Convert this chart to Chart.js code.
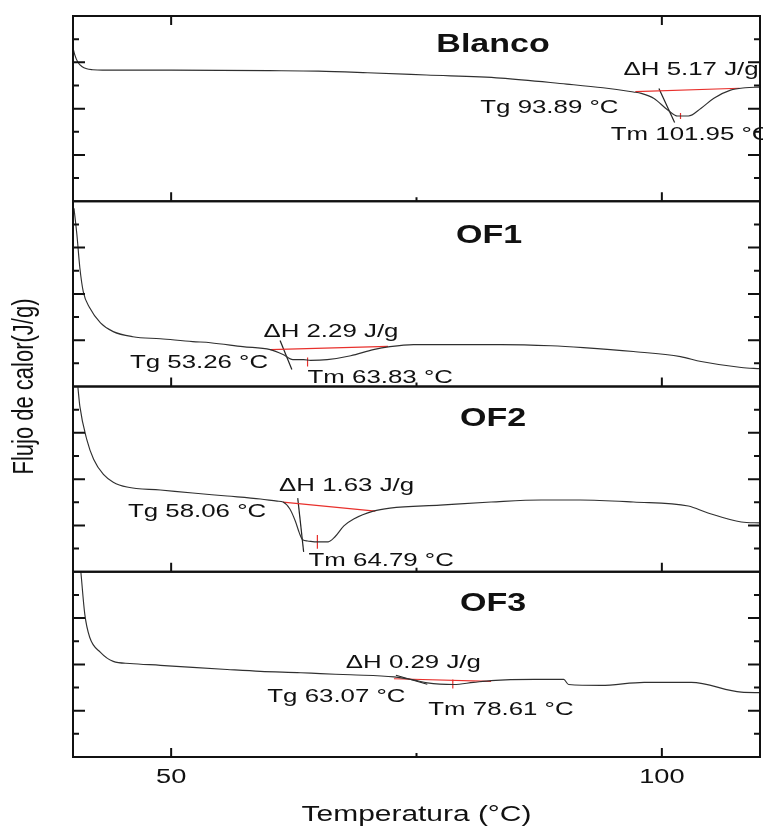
<!DOCTYPE html>
<html>
<head>
<meta charset="utf-8">
<script src="https://cdn.jsdelivr.net/npm/chart.js@4.4.0/dist/chart.umd.min.js"></script>
<style>
  html, body { margin: 0; padding: 0; background: #fff; }
</style>
</head>
<body>
<canvas id="myChart" width="763" height="831"></canvas>
<script>
// --- data (T in °C, heat flow in arbitrary panel units 0..8)
const panels = ['Blanco', 'OF1', 'OF2', 'OF3'];

const blancoT = [40.0, 40.2, 40.5, 40.9, 41.4, 42.0, 43.0, 50, 60, 65, 70, 76, 83.6, 90.3, 94, 97.1, 97.9, 99.2, 100.6, 101.6, 102.7, 104.0, 105.3, 107.0, 108.5, 110];
const blancoF = [6.62, 6.3, 6.0, 5.82, 5.72, 5.68, 5.66, 5.66, 5.64, 5.62, 5.55, 5.45, 5.32, 5.06, 4.9, 4.72, 4.66, 4.44, 3.94, 3.68, 3.68, 4.02, 4.45, 4.8, 4.9, 4.93];

const of1T = [40.1, 40.4, 40.7, 41.05, 41.7, 42.8, 44.1, 46.1, 48.9, 52.2, 54.0, 57.3, 60.1, 61.4, 62.4, 63.5, 64.2, 65.9, 68.3, 70.6, 72.3, 74.7, 77.4, 80.8, 83.6, 88.7, 92.0, 97.1, 101.9, 104.0, 108.1, 110];
const of1F = [7.7, 6.54, 5.12, 4.09, 3.4, 2.75, 2.37, 2.15, 2.06, 1.94, 1.89, 1.72, 1.59, 1.38, 1.16, 1.16, 1.13, 1.16, 1.33, 1.59, 1.72, 1.81, 1.81, 1.81, 1.81, 1.76, 1.68, 1.51, 1.29, 1.08, 0.82, 0.77];

const of2T = [40.5, 40.7, 41.4, 42.1, 43.1, 44.1, 45.5, 48.9, 52.2, 55.7, 59.1, 60.8, 61.4, 62.1, 62.65, 63.06, 63.4, 63.9, 64.9, 66.0, 66.7, 67.6, 68.6, 70.6, 72.3, 77.4, 82.6, 87.7, 91.7, 97.1, 102.7, 104.7, 108.1, 110];
const of2F = [7.96, 7.14, 5.72, 4.86, 4.2, 3.87, 3.66, 3.53, 3.4, 3.27, 3.14, 3.05, 3.01, 2.71, 2.19, 1.68, 1.38, 1.33, 1.29, 1.29, 1.51, 1.98, 2.28, 2.62, 2.75, 2.88, 3.01, 3.1, 3.1, 3.01, 2.84, 2.54, 2.15, 2.11];

const of3T = [40.8, 41.2, 41.7, 42.8, 44.1, 45.8, 48.9, 52.2, 55.7, 59.1, 63.2, 65.2, 68.3, 72.7, 74.7, 76.1, 78.8, 80.8, 82.6, 87.0, 90.0, 90.5, 93.8, 98.2, 103.0, 108.1, 110];
const of3F = [8.0, 6.17, 5.17, 4.52, 4.13, 4.04, 3.96, 3.87, 3.78, 3.7, 3.64, 3.6, 3.55, 3.46, 3.33, 3.2, 3.13, 3.22, 3.3, 3.35, 3.35, 3.13, 3.09, 3.22, 3.22, 2.8, 2.78];

// baseline (red), tangent (black) and Tm marker (red) segments: [T1, F1, T2, F2]
const baselines = [[97.3, 4.73, 107.9, 4.88], [60.1, 1.59, 72.1, 1.73], [61.4, 3.01, 70.8, 2.62], [72.7, 3.38, 82.6, 3.27]];
const tangents  = [[99.7, 4.87, 101.3, 3.40], [61.1, 1.99, 62.3, 0.73], [62.9, 3.18, 63.5, 0.86], [72.9, 3.53, 76.1, 3.14]];
const tmMarks   = [[101.9, 3.81, 101.9, 3.55], [63.9, 1.25, 63.9, 0.86], [64.9, 1.59, 64.9, 0.99], [78.7, 3.35, 78.7, 2.96]];

const deltaH = ['ΔH 5.17 J/g', 'ΔH 2.29 J/g', 'ΔH 1.63 J/g', 'ΔH 0.29 J/g'];
const tgText = ['Tg 93.89 °C', 'Tg 53.26 °C', 'Tg 58.06 °C', 'Tg 63.07 °C'];
const tmText = ['Tm 101.95 °C', 'Tm 63.83 °C', 'Tm 64.79 °C', 'Tm 78.61 °C'];

const xTicks = [50, 75, 100];
const xTickLabels = ['50', '', '100'];

// where the notes sit, in data coords of each panel
const notePos = [
  { title: [82.8, 6.75], dh: [96.1, 5.66], tg: [81.5, 4.02], tm: [94.8, 2.85] },
  { title: [82.4, 6.49], dh: [59.4, 2.37], tg: [45.8, 1.03], tm: [63.9, 0.39] },
  { title: [82.8, 6.58], dh: [61.0, 3.70], tg: [45.6, 2.58], tm: [64.0, 0.47] },
  { title: [82.8, 6.61], dh: [67.8, 4.09], tg: [59.8, 2.61], tm: [76.2, 2.04] }
];

const SX = 1.36;   // the original figure is stretched sideways
const FONT = '"Liberation Sans", Arial, sans-serif';
const axisIds = ['yB', 'y1', 'y2', 'y3'];

const zip = (t, f) => t.map((v, i) => ({ x: v, y: f[i] }));
const seg = s => [{ x: s[0], y: s[1] }, { x: s[2], y: s[3] }];

const curves = [zip(blancoT, blancoF), zip(of1T, of1F), zip(of2T, of2F), zip(of3T, of3F)];

const datasets = [];
curves.forEach((pts, i) => {
  datasets.push({ data: pts, yAxisID: axisIds[i], borderColor: '#303030', borderWidth: 1.15, cubicInterpolationMode: 'monotone' });
  datasets.push({ data: seg(baselines[i]), yAxisID: axisIds[i], borderColor: '#e8302c', borderWidth: 1.2 });
  datasets.push({ data: seg(tmMarks[i]), yAxisID: axisIds[i], borderColor: '#e8302c', borderWidth: 1.2 });
  datasets.push({ data: seg(tangents[i]), yAxisID: axisIds[i], borderColor: '#222', borderWidth: 1.2 });
});

function sText(ctx, txt, x, y, align, font) {
  ctx.save();
  ctx.font = font;
  ctx.translate(x, y);
  ctx.scale(SX, 1);
  ctx.textAlign = align;
  ctx.textBaseline = 'middle';
  ctx.fillStyle = '#111';
  ctx.fillText(txt, 0, 0);
  ctx.restore();
}

const framePlugin = {
  id: 'frame',
  afterDatasetsDraw(chart) {
    const ctx = chart.ctx;
    const xs = chart.scales.x;
    const L = chart.chartArea.left, R = chart.chartArea.right;
    ctx.save();
    ctx.strokeStyle = '#111';
    ctx.lineWidth = 2;
    axisIds.forEach((id, i) => {
      const ys = chart.scales[id];
      ctx.strokeRect(L, ys.top, R - L, ys.bottom - ys.top);
      for (let v = 1; v <= 7; v++) {
        const py = ys.getPixelForValue(v);
        const len = v % 2 === 0 ? 12 : 6;
        ctx.beginPath();
        ctx.moveTo(L, py); ctx.lineTo(L + len, py);
        ctx.moveTo(R, py); ctx.lineTo(R - len, py);
        ctx.stroke();
      }
      xTicks.forEach((t, k) => {
        const px = xs.getPixelForValue(t);
        const len = xTickLabels[k] ? 9 : 4;
        ctx.beginPath();
        ctx.moveTo(px, ys.bottom); ctx.lineTo(px, ys.bottom - len);
        if (i === 0 && xTickLabels[k]) { ctx.moveTo(px, ys.top); ctx.lineTo(px, ys.top + len); }
        ctx.stroke();
      });
      const p = notePos[i];
      const at = q => [xs.getPixelForValue(q[0]), ys.getPixelForValue(q[1])];
      let a = at(p.title); sText(ctx, panels[i], a[0], a[1], 'center', 'bold 25px ' + FONT);
      a = at(p.dh); sText(ctx, deltaH[i], a[0], a[1], 'left', '19px ' + FONT);
      a = at(p.tg); sText(ctx, tgText[i], a[0], a[1], 'left', '19px ' + FONT);
      a = at(p.tm); sText(ctx, tmText[i], a[0], a[1], 'left', '19px ' + FONT);
    });
    const last = chart.scales[axisIds[3]];
    xTicks.forEach((t, k) => {
      if (xTickLabels[k]) sText(ctx, xTickLabels[k], xs.getPixelForValue(t), last.bottom + 20, 'center', '20px ' + FONT);
    });
    sText(ctx, 'Temperatura (°C)', (L + R) / 2, last.bottom + 58, 'center', '22px ' + FONT);
    ctx.save();
    ctx.translate(25, (chart.scales[axisIds[0]].top + last.bottom) / 2);
    ctx.scale(SX, 1);
    ctx.rotate(-Math.PI / 2);
    ctx.font = '22px ' + FONT;
    ctx.textAlign = 'center';
    ctx.textBaseline = 'middle';
    ctx.fillStyle = '#111';
    ctx.fillText('Flujo de calor(J/g)', 0, 0);
    ctx.restore();
    ctx.restore();
  }
};

const yAxis = () => ({
  type: 'linear', min: 0, max: 8, position: 'left', stack: 'dsc', stackWeight: 1,
  ticks: { display: false }, grid: { display: false, drawTicks: false }, border: { display: false }
});

// bottom panel declared first so it is placed lowest
const scales = { x: { type: 'linear', min: 40, max: 110, display: false } };
[3, 2, 1, 0].forEach(i => { scales[axisIds[i]] = yAxis(); });

new Chart(document.getElementById('myChart'), {
  type: 'scatter',
  data: { datasets },
  options: {
    responsive: false,
    animation: false,
    showLine: true,
    elements: { point: { radius: 0 } },
    layout: { padding: { left: 73, right: 3, top: 16, bottom: 74 } },
    plugins: { legend: { display: false }, tooltip: { enabled: false } },
    scales
  },
  plugins: [framePlugin]
});
</script>
</body>
</html>
